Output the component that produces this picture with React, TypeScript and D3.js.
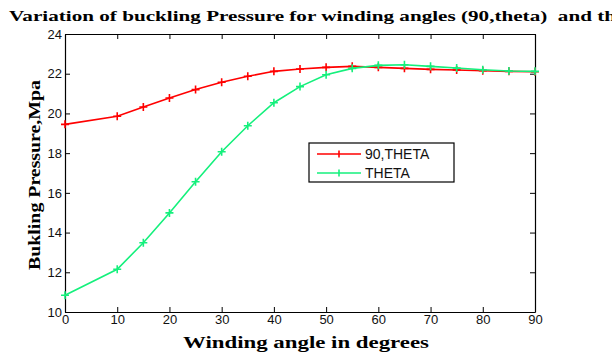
import { useRef, useEffect } from 'react'
import * as d3 from 'd3'

const angles = [0, 10, 15, 20, 25, 30, 35, 40, 45, 50, 55, 60, 65, 70, 75, 80, 85, 90]
const pressure90Theta = [19.45, 19.86, 20.32, 20.78, 21.2, 21.57, 21.87, 22.12, 22.24, 22.32, 22.37, 22.32, 22.27, 22.22, 22.19, 22.15, 22.12, 22.1]
const pressureTheta = [10.84, 12.15, 13.49, 14.99, 16.56, 18.07, 19.38, 20.54, 21.35, 21.95, 22.27, 22.42, 22.45, 22.37, 22.29, 22.2, 22.14, 22.12]
const xTicks = [0, 10, 20, 30, 40, 50, 60, 70, 80, 90]
const yTicks = [10, 12, 14, 16, 18, 20, 22, 24]
const seriesNames = ['90,THETA', 'THETA']
const seriesColors = ['#ff0000', '#14f07c']

const W = 612
const H = 354
const margin = { left: 65, right: 77, top: 34, bottom: 42 }

const App = () => {
  const svgRef = useRef<SVGSVGElement>(null)

  useEffect(() => {
    const svg = d3.select(svgRef.current)
    svg.selectAll('*').remove()

    const x = d3.scaleLinear().domain([0, 90]).range([margin.left, W - margin.right])
    const y = d3.scaleLinear().domain([10, 24]).range([H - margin.bottom, margin.top])
    const tickFont = 'Liberation Sans, Arial, sans-serif'
    const serif = 'Liberation Serif, Times New Roman, serif'

    svg.append('rect').attr('width', W).attr('height', H).attr('fill', '#fff')

    // title, stretched and clipped at the right like the original
    svg.append('text')
      .attr('x', 9).attr('y', 21)
      .attr('font-family', serif).attr('font-weight', 'bold').attr('font-size', 15.5)
      .attr('textLength', 634).attr('lengthAdjust', 'spacingAndGlyphs')
      .style('white-space', 'pre')
      .text('Variation of buckling Pressure for winding angles (90,theta)  and theta')

    // axes, ticks inside
    const bottom = svg.append('g')
      .attr('transform', `translate(0,${y(10)})`)
      .call(d3.axisBottom(x).tickValues(xTicks).tickSizeInner(-5).tickSizeOuter(0).tickPadding(3))
    const top = svg.append('g')
      .attr('transform', `translate(0,${y(24)})`)
      .call(d3.axisTop(x).tickValues(xTicks).tickSizeInner(-5).tickSizeOuter(0).tickFormat(() => ''))
    const left = svg.append('g')
      .attr('transform', `translate(${x(0)},0)`)
      .call(d3.axisLeft(y).tickValues(yTicks).tickSizeInner(-5).tickSizeOuter(0).tickPadding(3))
    const right = svg.append('g')
      .attr('transform', `translate(${x(90)},0)`)
      .call(d3.axisRight(y).tickValues(yTicks).tickSizeInner(-5).tickSizeOuter(0).tickFormat(() => ''))

    ;[bottom, top, left, right].forEach(g => {
      g.selectAll('path').attr('stroke', '#000').attr('stroke-width', 1.2)
      g.selectAll('line').attr('stroke', '#000')
      g.selectAll('text').attr('font-family', tickFont).attr('font-size', 13).attr('fill', '#111')
    })

    // series
    const all = [pressure90Theta, pressureTheta]
    const line = d3.line<number>().x((_, i) => x(angles[i])).y(d => y(d))
    all.forEach((vals, s) => {
      svg.append('path')
        .attr('d', line(vals))
        .attr('fill', 'none')
        .attr('stroke', seriesColors[s])
        .attr('stroke-width', 1.6)
      svg.append('g').selectAll('path')
        .data(vals)
        .join('path')
        .attr('d', (d, i) => {
          const cx = x(angles[i]), cy = y(d), r = 4
          return `M${cx - r},${cy}H${cx + r}M${cx},${cy - r}V${cy + r}`
        })
        .attr('stroke', seriesColors[s])
        .attr('stroke-width', 1.6)
    })

    // legend
    const lg = svg.append('g').attr('transform', 'translate(309,143)')
    lg.append('rect')
      .attr('width', 145).attr('height', 39)
      .attr('fill', '#fff').attr('stroke', '#000').attr('stroke-width', 1.2)
    seriesNames.forEach((name, i) => {
      const ly = 11 + i * 19
      lg.append('line').attr('x1', 8).attr('x2', 52).attr('y1', ly).attr('y2', ly)
        .attr('stroke', seriesColors[i]).attr('stroke-width', 1.6)
      lg.append('path').attr('d', `M30,${ly - 3.5}V${ly + 3.5}`)
        .attr('stroke', seriesColors[i]).attr('stroke-width', 1.6)
      lg.append('text').attr('x', 56).attr('y', ly + 5)
        .attr('font-family', tickFont).attr('font-size', 14).attr('fill', '#111')
        .text(name)
    })

    // axis labels
    svg.append('text')
      .attr('x', 183).attr('y', 348)
      .attr('font-family', serif).attr('font-weight', 'bold').attr('font-size', 16)
      .attr('textLength', 246).attr('lengthAdjust', 'spacingAndGlyphs')
      .text('Winding angle in degrees')
    svg.append('text')
      .attr('transform', `translate(40,${y(16.9)}) rotate(-90)`)
      .attr('x', -95)
      .attr('font-family', serif).attr('font-weight', 'bold').attr('font-size', 17)
      .attr('textLength', 190).attr('lengthAdjust', 'spacingAndGlyphs')
      .text('Bukling Pressure,Mpa')
  }, [])

  return (
    <svg ref={svgRef} width={W} height={H}
      style={{ position: 'absolute', left: 0, top: 0, display: 'block' }} />
  )
}

export default App
